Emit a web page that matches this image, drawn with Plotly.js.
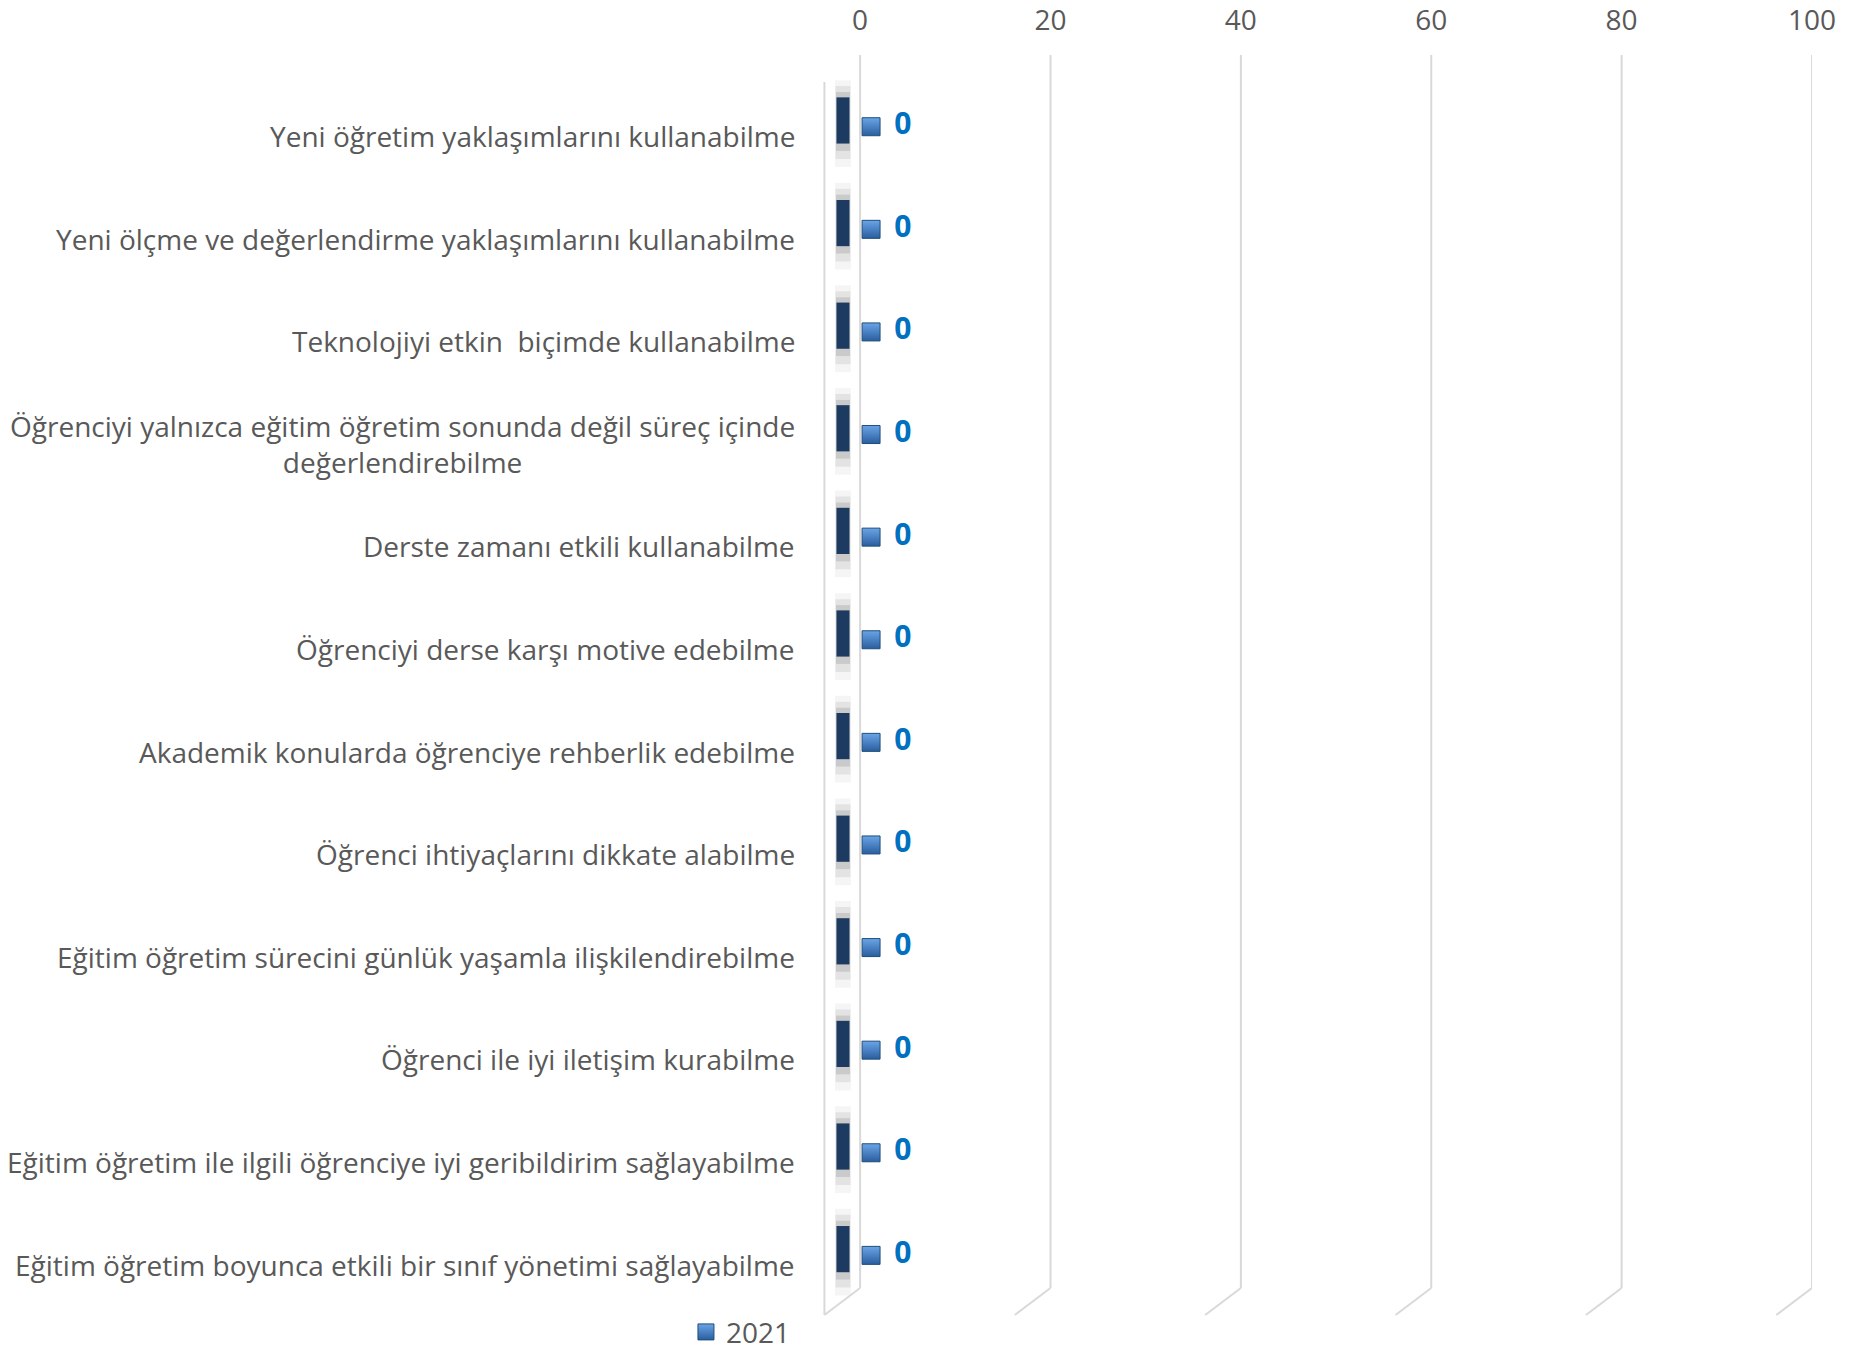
<!DOCTYPE html>
<html>
<head>
<meta charset="utf-8">
<script src="https://cdn.plot.ly/plotly-3.0.1.min.js"></script>
<style>html,body{margin:0;padding:0;background:#fff;}#chart{width:1852px;height:1358px;}</style>
</head>
<body>
<div id="chart"></div>
<script>
// ---- data ----
const categories = [
  "Yeni öğretim yaklaşımlarını kullanabilme",
  "Yeni ölçme ve değerlendirme yaklaşımlarını kullanabilme",
  "Teknolojiyi etkin  biçimde kullanabilme",
  "Öğrenciyi yalnızca eğitim öğretim sonunda değil süreç içinde<br>değerlendirebilme",
  "Derste zamanı etkili kullanabilme",
  "Öğrenciyi derse karşı motive edebilme",
  "Akademik konularda öğrenciye rehberlik edebilme",
  "Öğrenci ihtiyaçlarını dikkate alabilme",
  "Eğitim öğretim sürecini günlük yaşamla ilişkilendirebilme",
  "Öğrenci ile iyi iletişim kurabilme",
  "Eğitim öğretim ile ilgili öğrenciye iyi geribildirim sağlayabilme",
  "Eğitim öğretim boyunca etkili bir sınıf yönetimi sağlayabilme"
];
const values2021 = [0, 0, 0, 0, 0, 0, 0, 0, 0, 0, 0, 0];
const seriesName = "2021";
const xTicks = [0, 20, 40, 60, 80, 100];

// ---- styling constants ----
const FONT = "'Open Sans', 'Noto Sans', sans-serif";
const GRID = "#d9d9d9";
const depthX = -3.75;       // 3D floor depth offset (x units)
const slabDX = -1.8;        // front face of a zero bar
const slabDY = -0.151;
const keyDX = 1.15;
const keyDY = -0.09;
const labelDX = 4.5;
const bendY = 0.0214, wallTop = 0.9786;

const idx = categories.map((c, i) => i);
const slabX = values2021.map(v => v + slabDX);

const traces = [
  // soft shadow of slabs
  {type: "scatter", mode: "markers", x: slabX, y: idx.map(i => i + slabDY + 0.03),
   marker: {symbol: "line-ns-open", size: 62, color: "rgba(0,0,0,0.04)", line: {width: 16}},
   showlegend: false, hoverinfo: "skip"},
  {type: "scatter", mode: "markers", x: slabX, y: idx.map(i => i + slabDY + 0.02),
   marker: {symbol: "line-ns-open", size: 52, color: "rgba(0,0,0,0.07)", line: {width: 15}},
   showlegend: false, hoverinfo: "skip"},
  {type: "scatter", mode: "markers", x: slabX, y: idx.map(i => i + slabDY + 0.01),
   marker: {symbol: "line-ns-open", size: 42, color: "rgba(0,0,0,0.11)", line: {width: 14}},
   showlegend: false, hoverinfo: "skip"},
  // slabs (zero-length 3D bars)
  {type: "scatter", mode: "markers", x: slabX, y: idx.map(i => i + slabDY),
   marker: {symbol: "line-ns-open", size: 33, color: "#1d3a60", line: {width: 13}},
   showlegend: false, hoverinfo: "skip"},
  // legend key in data labels
  {type: "scatter", mode: "markers", name: seriesName,
   x: values2021.map(v => v + keyDX), y: idx.map(i => i + keyDY),
   marker: {symbol: "square", size: 18, color: "#6aa5e8",
            gradient: {type: "vertical", color: "#2a5e9e"},
            line: {width: 1, color: "#1f4e79"}},
   showlegend: true, hoverinfo: "skip"},
  // data labels
  {type: "scatter", mode: "text", x: values2021.map(v => v + labelDX), y: idx.map(i => i + keyDY),
   text: values2021.map(v => String(v)), textposition: "middle center",
   textfont: {family: FONT, size: 30, color: "#0070c0", weight: "bold"},
   showlegend: false, hoverinfo: "skip"}
];

const shapes = [];
xTicks.forEach(t => {
  shapes.push({type: "line", xref: "x", yref: "paper", x0: t, x1: t, y0: bendY, y1: 1,
               line: {color: GRID, width: 2}});
  shapes.push({type: "line", xref: "x", yref: "paper", x0: t, x1: t + depthX, y0: bendY, y1: 0,
               line: {color: GRID, width: 2}});
});
// left wall front edge
shapes.push({type: "line", xref: "x", yref: "paper", x0: xTicks[0] + depthX, x1: xTicks[0] + depthX,
             y0: 0, y1: wallTop, line: {color: GRID, width: 2}});

const annotations = categories.map((c, i) => ({
  xref: "paper", yref: "y", x: -0.0055, y: i, xanchor: "right", yanchor: "middle",
  text: c, align: "center", showarrow: false,
  font: {family: FONT, size: 28, color: "#595959"}
}));

const layout = {
  width: 1852, height: 1358,
  margin: {l: 803, r: 40, t: 55, b: 43, autoexpand: false},
  paper_bgcolor: "#ffffff", plot_bgcolor: "rgba(0,0,0,0)",
  font: {family: FONT, color: "#595959"},
  showlegend: true,
  legend: {orientation: "h", x: -0.116, xanchor: "left", y: -0.0335, yanchor: "bottom",
           font: {family: FONT, size: 28, color: "#595959"}, bgcolor: "rgba(0,0,0,0)"},
  xaxis: {range: [-6, 100], side: "top", tickvals: xTicks, ticktext: xTicks.map(String),
          showgrid: false, zeroline: false, showline: false, ticks: "", ticklabelstandoff: 18,
          tickfont: {family: FONT, size: 28, color: "#595959"}, fixedrange: true},
  yaxis: {range: [11.491, -0.789], showticklabels: false, showgrid: false, zeroline: false,
          showline: false, ticks: "", fixedrange: true},
  shapes: shapes,
  annotations: annotations
};

Plotly.newPlot("chart", traces, layout, {displayModeBar: false, staticPlot: true});
</script>
</body>
</html>
